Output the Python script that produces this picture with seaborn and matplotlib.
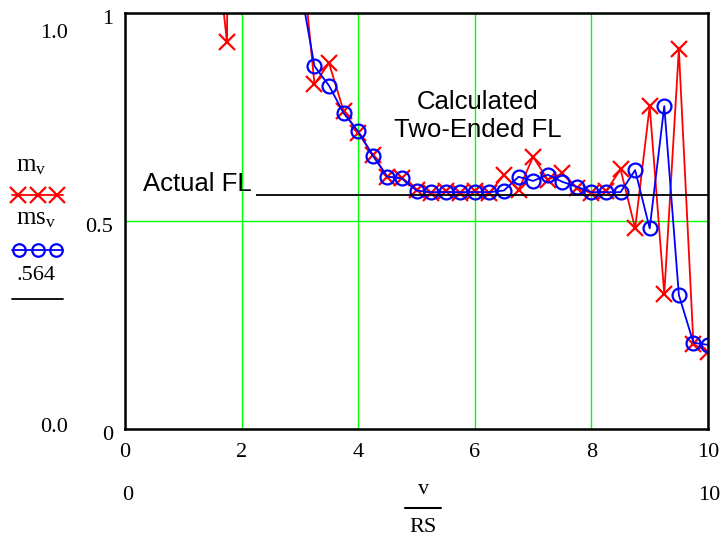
import numpy as np
import matplotlib
matplotlib.use("Agg")
import matplotlib.pyplot as plt
from matplotlib.lines import Line2D
import seaborn as sns

sns.set_style("white")
plt.rcParams['font.family'] = ['Liberation Serif', 'DejaVu Serif']
plt.rcParams['mathtext.fontset'] = 'custom'
plt.rcParams['mathtext.rm'] = 'Liberation Serif'
plt.rcParams['mathtext.it'] = 'Liberation Serif'
plt.rcParams['text.color'] = 'black'
plt.rcParams['xtick.color'] = 'black'
plt.rcParams['ytick.color'] = 'black'

# v/RS sample positions (red trace m_v)
m_x = [1.5, 1.75, 2.0, 2.25, 2.5, 2.75, 3.0, 3.25, 3.5, 3.75, 4.0, 4.25, 4.5, 4.75,
       5.0, 5.25, 5.5, 5.75, 6.0, 6.25, 6.5, 6.75, 7.0, 7.25, 7.5, 7.75, 8.0, 8.25,
       8.5, 8.75, 9.0, 9.25, 9.5, 9.75, 10.0]
m_v = [1.25, 0.93, 8.0, 5.0, 3.0, 1.8, 1.19, 0.830, 0.880, 0.765, 0.713, 0.660, 0.607, 0.605,
       0.575, 0.568, 0.572, 0.568, 0.572, 0.568, 0.611, 0.575, 0.655, 0.600, 0.615, 0.580,
       0.568, 0.572, 0.625, 0.483, 0.777, 0.325, 0.913, 0.205, 0.186]

# blue trace ms_v
ms_x = [3.0, 3.25, 3.5, 3.75, 4.0, 4.25, 4.5, 4.75, 5.0, 5.25, 5.5, 5.75, 6.0, 6.25,
        6.5, 6.75, 7.0, 7.25, 7.5, 7.75, 8.0, 8.25, 8.5, 8.75, 9.0, 9.25, 9.5, 9.75, 10.0]
ms_v = [1.07, 0.873, 0.826, 0.760, 0.716, 0.658, 0.607, 0.603, 0.574, 0.570, 0.570, 0.570,
        0.570, 0.570, 0.574, 0.607, 0.597, 0.612, 0.595, 0.583, 0.570, 0.570, 0.570, 0.623,
        0.483, 0.777, 0.323, 0.208, 0.203]

actual_fl = 0.564
fl_start = 2.24
x_ticks = [0, 2, 4, 6, 8, 10]

fig = plt.figure(figsize=(7.28, 5.42), dpi=100)
ax = fig.add_axes([125 / 728, 1 - 429.3 / 542, 583 / 728, 416 / 542])

ax.set_xlim(0, 10)
ax.set_ylim(0, 1)
ax.set_xticks(x_ticks)
ax.set_xticklabels([str(t) for t in x_ticks], fontsize=16)
ax.set_yticks([0, 0.5, 1])
ax.set_yticklabels([])
ax.tick_params(length=0, pad=10)
ax.grid(True, color='#00ff00', lw=1)
for s in ax.spines.values():
    s.set_color('black')
    s.set_linewidth(1.8)

sns.lineplot(x=m_x, y=m_v, ax=ax, color='red', lw=1.3, marker='x', markersize=11,
             markeredgewidth=1.6, markeredgecolor='red', sort=False, estimator=None)
sns.lineplot(x=ms_x, y=ms_v, ax=ax, color='blue', lw=1.3, marker='o', markersize=10,
             markerfacecolor='none', markeredgewidth=1.6, markeredgecolor='blue',
             sort=False, estimator=None)
ax.hlines(actual_fl, fl_start, 10, color='black', lw=1.3)

sans = ['Liberation Sans', 'DejaVu Sans']
ax.text(2.18, 0.59, 'Actual FL', ha='right', va='center', fontsize=18.5, family=sans)
ax.text(6.04, 0.787, 'Calculated', ha='center', va='center', fontsize=18.5, family=sans)
ax.text(6.06, 0.72, 'Two-Ended FL', ha='center', va='center', fontsize=18.5, family=sans)

def ft(px, py, s, size=16, **kw):
    fig.text(px / 728, 1 - py / 542, s, va='center', fontsize=size, **kw)

# y-axis labels (Mathcad style)
ft(68, 33, '1.0', ha='right')
ft(113, 20, '1', ha='right')
ft(113, 227, '0.5', ha='right')
ft(68, 427, '0.0', ha='right')
ft(113, 435, '0', ha='right')

# x-axis range labels and title
ft(128, 495, '0', ha='center')
ft(709, 495, '10', ha='center')
ft(424, 490, 'v', ha='center')
fig.add_artist(Line2D([405 / 728, 441 / 728], [1 - 508 / 542] * 2, color='black', lw=1.5,
                      transform=fig.transFigure))
ft(423, 527, 'RS', ha='center')

# legend on the left
ft(16, 166, r'$\mathrm{m_v}$', size=18, ha='left')
fig.add_artist(Line2D([12 / 728, 63 / 728], [1 - 195 / 542] * 2, color='red', lw=1.3,
                      transform=fig.transFigure))
fig.add_artist(Line2D([18 / 728, 38 / 728, 57 / 728], [1 - 195 / 542] * 3, ls='none',
                      marker='x', markersize=11, markeredgewidth=1.6, color='red',
                      transform=fig.transFigure))
ft(16, 219, r'$\mathrm{ms_v}$', size=18, ha='left')
fig.add_artist(Line2D([12 / 728, 63 / 728], [1 - 250 / 542] * 2, color='blue', lw=1.3,
                      transform=fig.transFigure))
fig.add_artist(Line2D([19 / 728, 38 / 728, 56 / 728], [1 - 250 / 542] * 3, ls='none',
                      marker='o', markersize=9, markeredgewidth=1.6, color='blue',
                      markerfacecolor='none', transform=fig.transFigure))
ft(17, 275, '.564', ha='left')
fig.add_artist(Line2D([12 / 728, 63 / 728], [1 - 299 / 542] * 2, color='black', lw=1.3,
                      transform=fig.transFigure))

fig.savefig('out.png', dpi=100)
